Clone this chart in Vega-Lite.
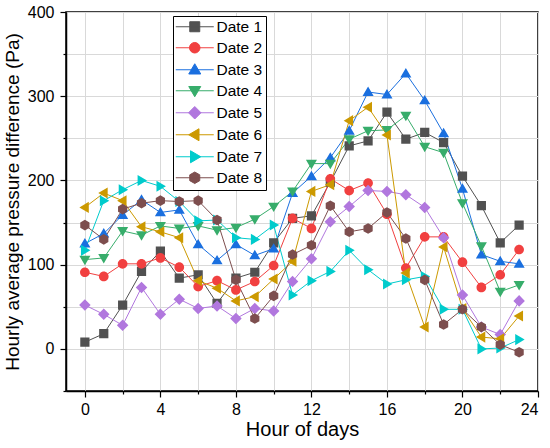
{
  "$schema": "https://vega.github.io/schema/vega-lite/v6.json",
  "width": 472,
  "height": 379,
  "autosize": "none",
  "padding": {"left": 66, "top": 12, "right": 12, "bottom": 57},
  "background": "white",
  "data": {"values": [
    {"d":"Date 1","h":0,"v":8},{"d":"Date 1","h":1,"v":18},{"d":"Date 1","h":2,"v":52},{"d":"Date 1","h":3,"v":92},{"d":"Date 1","h":4,"v":116},{"d":"Date 1","h":5,"v":84},{"d":"Date 1","h":6,"v":88},{"d":"Date 1","h":7,"v":54},{"d":"Date 1","h":8,"v":84},{"d":"Date 1","h":9,"v":91},{"d":"Date 1","h":10,"v":126},{"d":"Date 1","h":11,"v":155},{"d":"Date 1","h":12,"v":158},{"d":"Date 1","h":13,"v":198},{"d":"Date 1","h":14,"v":241},{"d":"Date 1","h":15,"v":247},{"d":"Date 1","h":16,"v":281},{"d":"Date 1","h":17,"v":249},{"d":"Date 1","h":18,"v":257},{"d":"Date 1","h":19,"v":245},{"d":"Date 1","h":20,"v":205},{"d":"Date 1","h":21,"v":170},{"d":"Date 1","h":22,"v":126},{"d":"Date 1","h":23,"v":147},
    {"d":"Date 2","h":0,"v":91},{"d":"Date 2","h":1,"v":86},{"d":"Date 2","h":2,"v":101},{"d":"Date 2","h":3,"v":101},{"d":"Date 2","h":4,"v":108},{"d":"Date 2","h":5,"v":97},{"d":"Date 2","h":6,"v":74},{"d":"Date 2","h":7,"v":81},{"d":"Date 2","h":8,"v":70},{"d":"Date 2","h":9,"v":80},{"d":"Date 2","h":10,"v":99},{"d":"Date 2","h":11,"v":155},{"d":"Date 2","h":12,"v":143},{"d":"Date 2","h":13,"v":202},{"d":"Date 2","h":14,"v":188},{"d":"Date 2","h":15,"v":197},{"d":"Date 2","h":16,"v":160},{"d":"Date 2","h":17,"v":96},{"d":"Date 2","h":18,"v":133},{"d":"Date 2","h":19,"v":133},{"d":"Date 2","h":20,"v":103},{"d":"Date 2","h":21,"v":73},{"d":"Date 2","h":22,"v":88},{"d":"Date 2","h":23,"v":118},
    {"d":"Date 3","h":0,"v":125},{"d":"Date 3","h":1,"v":137},{"d":"Date 3","h":2,"v":159},{"d":"Date 3","h":3,"v":177},{"d":"Date 3","h":4,"v":162},{"d":"Date 3","h":5,"v":165},{"d":"Date 3","h":6,"v":124},{"d":"Date 3","h":7,"v":105},{"d":"Date 3","h":8,"v":124},{"d":"Date 3","h":9,"v":111},{"d":"Date 3","h":10,"v":119},{"d":"Date 3","h":11,"v":185},{"d":"Date 3","h":12,"v":205},{"d":"Date 3","h":13,"v":227},{"d":"Date 3","h":14,"v":259},{"d":"Date 3","h":15,"v":305},{"d":"Date 3","h":16,"v":302},{"d":"Date 3","h":17,"v":327},{"d":"Date 3","h":18,"v":295},{"d":"Date 3","h":19,"v":256},{"d":"Date 3","h":20,"v":190},{"d":"Date 3","h":21,"v":112},{"d":"Date 3","h":22,"v":104},{"d":"Date 3","h":23,"v":101},
    {"d":"Date 4","h":0,"v":106},{"d":"Date 4","h":1,"v":108},{"d":"Date 4","h":2,"v":140},{"d":"Date 4","h":3,"v":135},{"d":"Date 4","h":4,"v":146},{"d":"Date 4","h":5,"v":143},{"d":"Date 4","h":6,"v":146},{"d":"Date 4","h":7,"v":141},{"d":"Date 4","h":8,"v":144},{"d":"Date 4","h":9,"v":154},{"d":"Date 4","h":10,"v":169},{"d":"Date 4","h":11,"v":187},{"d":"Date 4","h":12,"v":220},{"d":"Date 4","h":13,"v":220},{"d":"Date 4","h":14,"v":249},{"d":"Date 4","h":15,"v":259},{"d":"Date 4","h":16,"v":260},{"d":"Date 4","h":17,"v":277},{"d":"Date 4","h":18,"v":240},{"d":"Date 4","h":19,"v":233},{"d":"Date 4","h":20,"v":173},{"d":"Date 4","h":21,"v":122},{"d":"Date 4","h":22,"v":68},{"d":"Date 4","h":23,"v":76},
    {"d":"Date 5","h":0,"v":52},{"d":"Date 5","h":1,"v":41},{"d":"Date 5","h":2,"v":28},{"d":"Date 5","h":3,"v":73},{"d":"Date 5","h":4,"v":41},{"d":"Date 5","h":5,"v":59},{"d":"Date 5","h":6,"v":48},{"d":"Date 5","h":7,"v":51},{"d":"Date 5","h":8,"v":36},{"d":"Date 5","h":9,"v":48},{"d":"Date 5","h":10,"v":45},{"d":"Date 5","h":11,"v":80},{"d":"Date 5","h":12,"v":107},{"d":"Date 5","h":13,"v":151},{"d":"Date 5","h":14,"v":169},{"d":"Date 5","h":15,"v":188},{"d":"Date 5","h":16,"v":187},{"d":"Date 5","h":17,"v":183},{"d":"Date 5","h":18,"v":168},{"d":"Date 5","h":19,"v":132},{"d":"Date 5","h":20,"v":64},{"d":"Date 5","h":21,"v":26},{"d":"Date 5","h":22,"v":17},{"d":"Date 5","h":23,"v":57},
    {"d":"Date 6","h":0,"v":168},{"d":"Date 6","h":1,"v":185},{"d":"Date 6","h":2,"v":176},{"d":"Date 6","h":3,"v":145},{"d":"Date 6","h":4,"v":139},{"d":"Date 6","h":5,"v":132},{"d":"Date 6","h":6,"v":81},{"d":"Date 6","h":7,"v":72},{"d":"Date 6","h":8,"v":57},{"d":"Date 6","h":9,"v":62},{"d":"Date 6","h":10,"v":83},{"d":"Date 6","h":11,"v":104},{"d":"Date 6","h":12,"v":187},{"d":"Date 6","h":13,"v":195},{"d":"Date 6","h":14,"v":271},{"d":"Date 6","h":15,"v":287},{"d":"Date 6","h":16,"v":254},{"d":"Date 6","h":17,"v":90},{"d":"Date 6","h":18,"v":26},{"d":"Date 6","h":19,"v":121},{"d":"Date 6","h":20,"v":48},{"d":"Date 6","h":21,"v":14},{"d":"Date 6","h":22,"v":12},{"d":"Date 6","h":23,"v":39},
    {"d":"Date 7","h":0,"v":117},{"d":"Date 7","h":1,"v":176},{"d":"Date 7","h":2,"v":189},{"d":"Date 7","h":3,"v":200},{"d":"Date 7","h":4,"v":193},{"d":"Date 7","h":5,"v":175},{"d":"Date 7","h":6,"v":152},{"d":"Date 7","h":7,"v":153},{"d":"Date 7","h":8,"v":132},{"d":"Date 7","h":9,"v":130},{"d":"Date 7","h":10,"v":147},{"d":"Date 7","h":11,"v":64},{"d":"Date 7","h":12,"v":81},{"d":"Date 7","h":13,"v":92},{"d":"Date 7","h":14,"v":117},{"d":"Date 7","h":15,"v":94},{"d":"Date 7","h":16,"v":77},{"d":"Date 7","h":17,"v":82},{"d":"Date 7","h":18,"v":86},{"d":"Date 7","h":19,"v":47},{"d":"Date 7","h":20,"v":47},{"d":"Date 7","h":21,"v":0},{"d":"Date 7","h":22,"v":1},{"d":"Date 7","h":23,"v":11},
    {"d":"Date 8","h":0,"v":147},{"d":"Date 8","h":1,"v":130},{"d":"Date 8","h":2,"v":166},{"d":"Date 8","h":3,"v":173},{"d":"Date 8","h":4,"v":176},{"d":"Date 8","h":5,"v":175},{"d":"Date 8","h":6,"v":176},{"d":"Date 8","h":7,"v":153},{"d":"Date 8","h":8,"v":82},{"d":"Date 8","h":9,"v":36},{"d":"Date 8","h":10,"v":63},{"d":"Date 8","h":11,"v":112},{"d":"Date 8","h":12,"v":123},{"d":"Date 8","h":13,"v":170},{"d":"Date 8","h":14,"v":139},{"d":"Date 8","h":15,"v":143},{"d":"Date 8","h":16,"v":162},{"d":"Date 8","h":17,"v":131},{"d":"Date 8","h":18,"v":82},{"d":"Date 8","h":19,"v":29},{"d":"Date 8","h":20,"v":47},{"d":"Date 8","h":21,"v":26},{"d":"Date 8","h":22,"v":5},{"d":"Date 8","h":23,"v":-4}
  ]},
  "encoding": {
    "x": {
      "field": "h", "type": "quantitative",
      "scale": {"domain": [-1, 24], "nice": false, "zero": false},
      "axis": {
        "title": "Hour of days",
        "values": [0, 2, 4, 6, 8, 10, 12, 14, 16, 18, 20, 22, 24],
        "labelExpr": "datum.value % 4 === 0 ? datum.label : ''",
        "tickSize": {"condition": {"test": "datum.value % 4 === 0", "value": 6}, "value": 3},
        "labelPadding": 4,
        "titlePadding": 2
      }
    },
    "y": {
      "field": "v", "type": "quantitative",
      "scale": {"domain": [-50, 400], "nice": false, "zero": false},
      "axis": {
        "title": "Hourly average pressure difference (Pa)",
        "values": [-50, 0, 50, 100, 150, 200, 250, 300, 350, 400],
        "labelExpr": "datum.value % 100 === 0 ? datum.label : ''",
        "tickSize": {"condition": {"test": "datum.value % 100 === 0", "value": 6}, "value": 3},
        "labelPadding": 6,
        "titlePadding": 5,
        "titleFontSize": 19
      }
    },
    "color": {
      "field": "d", "type": "nominal",
      "scale": {
        "domain": ["Date 1", "Date 2", "Date 3", "Date 4", "Date 5", "Date 6", "Date 7", "Date 8"],
        "range": ["#515151", "#F14040", "#1A6FDF", "#37AD6B", "#B177DE", "#CC9900", "#00CBCC", "#7D4E4E"]
      },
      "legend": {
        "title": null,
        "orient": "none",
        "legendX": 107,
        "legendY": 4,
        "padding": 3,
        "strokeColor": "black",
        "fillColor": "white",
        "labelFont": "Liberation Sans",
        "labelFontSize": 15.5,
        "labelColor": "black",
        "symbolOffset": 11,
        "labelOffset": 14,
        "rowPadding": 4,
        "encode": {
          "symbols": {
            "update": {
              "stroke": {"scale": "color", "field": "value"},
              "strokeWidth": {"value": 1},
              "opacity": {"value": 1}
            }
          }
        }
      }
    }
  },
  "layer": [
    {
      "mark": {"type": "line", "strokeWidth": 1},
      "encoding": {"detail": {"field": "d"}}
    },
    {
      "mark": {"type": "point", "filled": true, "opacity": 1, "size": 85},
      "encoding": {
        "shape": {
          "field": "d", "type": "nominal",
          "scale": {
            "domain": ["Date 1", "Date 2", "Date 3", "Date 4", "Date 5", "Date 6", "Date 7", "Date 8"],
            "range": [
              "M-3.8,0H3.8M-1,-1H1V1H-1Z",
              "M-3.8,0H3.8M1.05,0A1.05,1.05,0,1,1,-1.05,0A1.05,1.05,0,1,1,1.05,0Z",
              "M-3.8,0H3.8M0,-1.2L1.2,0.85H-1.2Z",
              "M-3.8,0H3.8M0,1.2L1.2,-0.85H-1.2Z",
              "M-3.8,0H3.8M0,-1.25L1.25,0L0,1.25L-1.25,0Z",
              "M-3.8,0H3.8M-1.2,0L0.85,-1.2V1.2Z",
              "M-3.8,0H3.8M1.2,0L-0.85,-1.2V1.2Z",
              "M-3.8,0H3.8M0,-1.15L1,-0.58V0.58L0,1.15L-1,0.58V-0.58Z"
            ]
          },
          "legend": {
            "title": null,
            "orient": "none",
            "legendX": 107,
            "legendY": 4
          }
        }
      }
    }
  ],
  "config": {
    "view": {"stroke": "black", "strokeWidth": 1.5},
    "font": "Liberation Sans",
    "axis": {
      "domainColor": "black",
      "domainWidth": 1.5,
      "tickColor": "black",
      "tickWidth": 1.2,
      "gridColor": "#d9d9d9",
      "gridWidth": 1,
      "labelFont": "Liberation Sans",
      "labelFontSize": 16,
      "labelColor": "black",
      "titleFont": "Liberation Sans",
      "titleFontSize": 20,
      "titleFontWeight": "normal",
      "titleColor": "black"
    }
  }
}
